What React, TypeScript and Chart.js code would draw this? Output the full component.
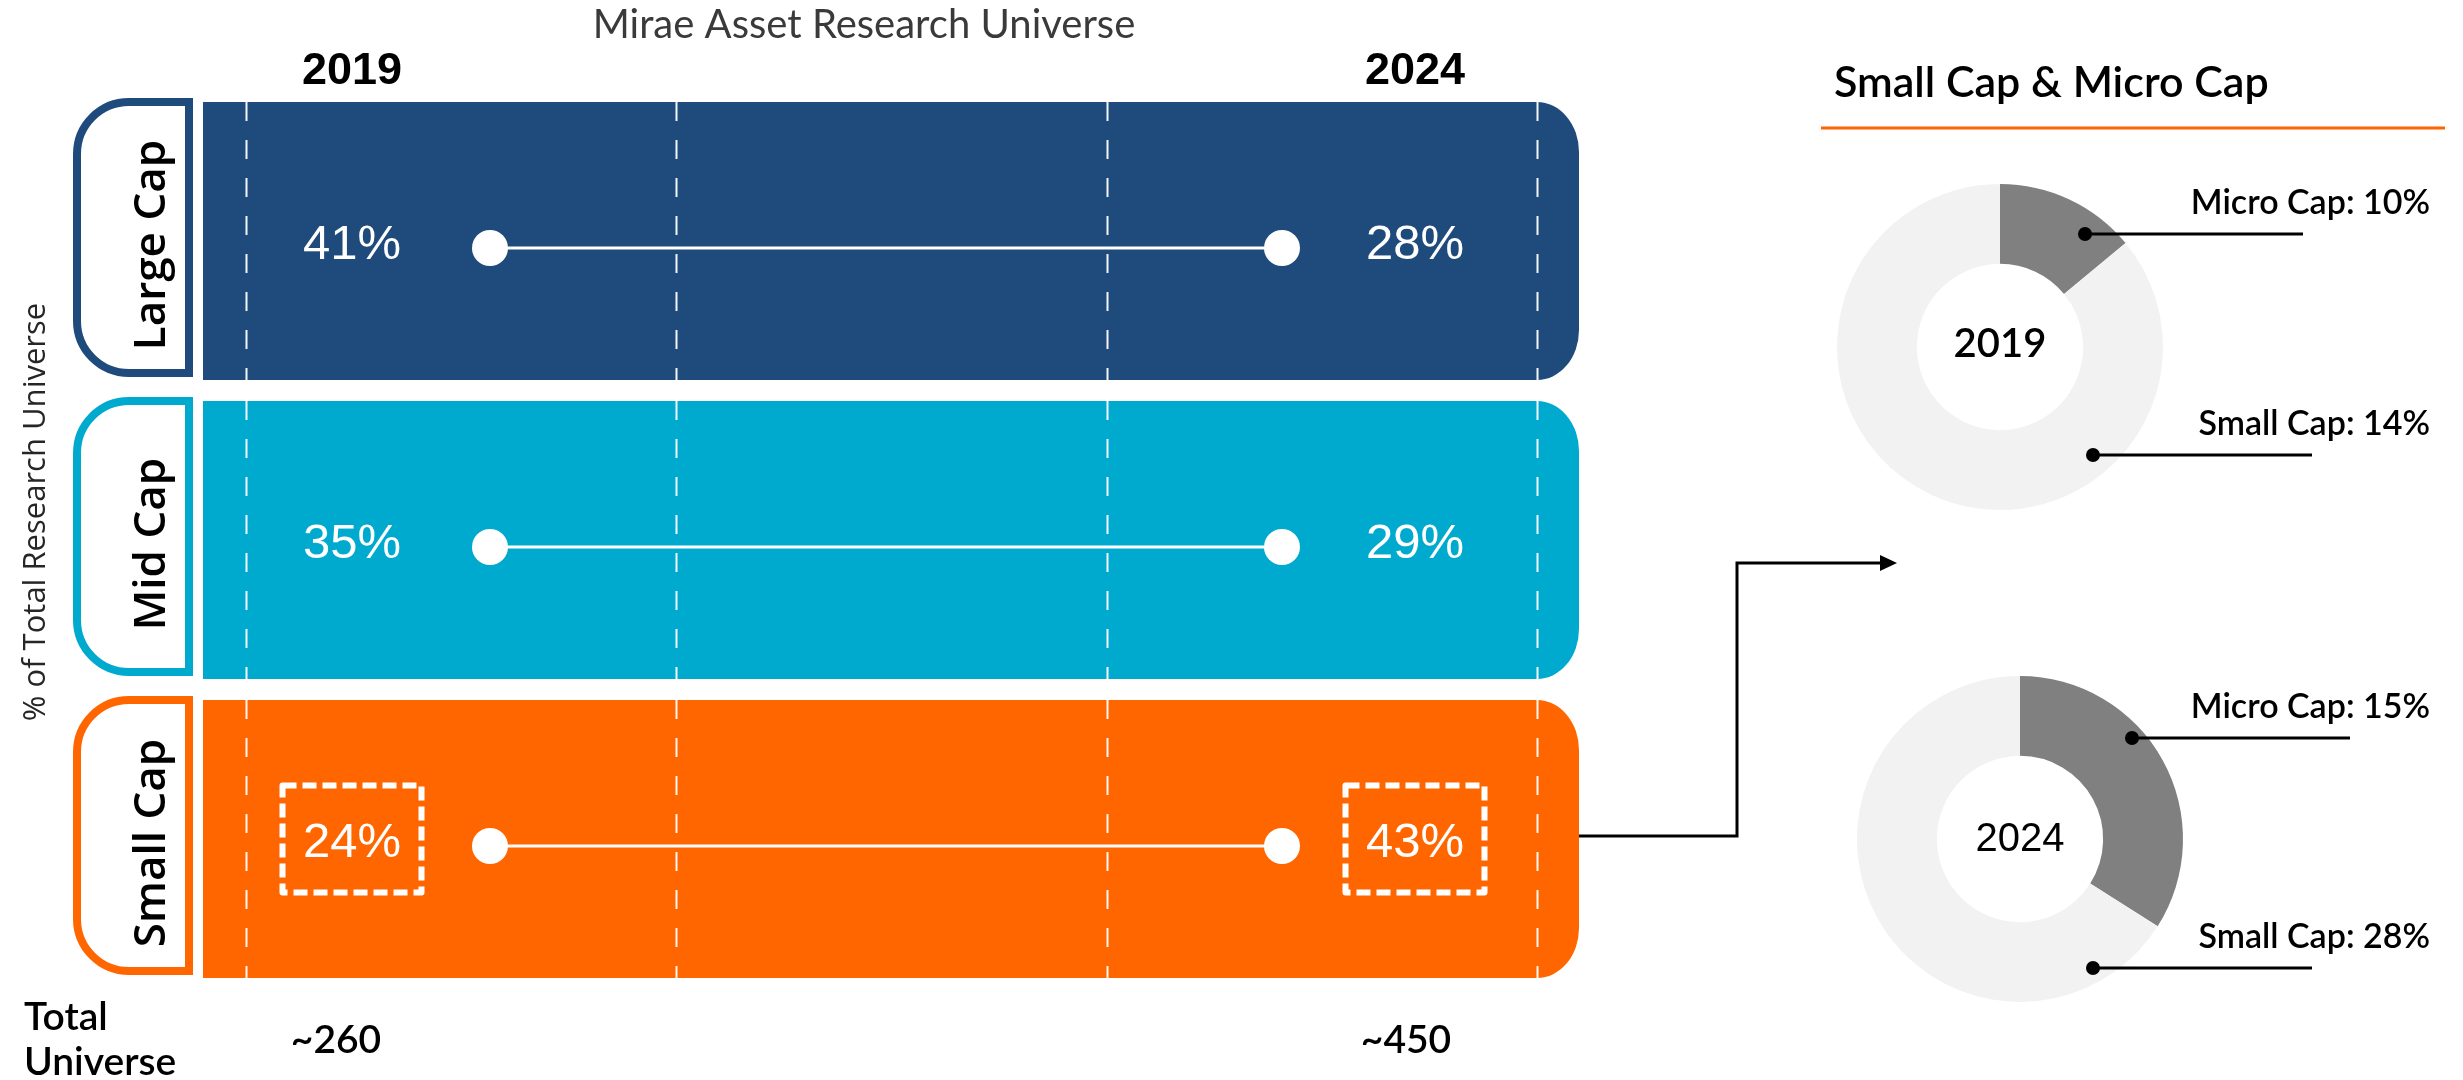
import React, { useEffect, useRef } from 'react';
import { Chart, registerables } from 'chart.js';

Chart.register(...registerables);

// ---------------- data ----------------
const capCategories = ['Large Cap', 'Mid Cap', 'Small Cap'];
const years = [2019, 2024];
const share2019 = [41, 35, 24];
const share2024 = [28, 29, 43];
const totalUniverse = ['~260', '~450'];
const highlightCategory = 'Small Cap';
const donutYears = ['2019', '2024'];
const microCapPct = [10, 15];
const smallCapPct = [14, 28];
// share of each ring drawn in grey / light grey
const microRingShare = [14, 34];
const otherRingShare = [86, 66];

// ---------------- layout & style ----------------
const W = 2463;
const H = 1080;
const AREA = { left: 203, right: 1579, top: 98.5, bottom: 995.5 };
const BAR_SHIFT = -7; // bar centre relative to band centre
const DOT_X = [490, 1282];
const BAR_RATIO = 278 / 299;
const capColors = ['#1F4A7C', '#00AACF', '#FF6600'];
const LABEL_DX = [-138, 133];
const LABEL_BASELINE_DY = 11;
const TOTAL_DX = [-154, 124];
const FONT_PCT = '49px "Liberation Sans", Arial, sans-serif';
const FONT_HEAD = 'bold 45px "Liberation Sans", Arial, sans-serif';
const FONT_CAP = '600 44px "Open Sans", sans-serif';
const FONT_YTITLE = '31px "Open Sans", sans-serif';
const FONT_LATO = (px: number, w = 400) => `${w} ${px}px Lato, sans-serif`;

const DONUT_R = 163;
const DONUT_CX = [2000, 2020];
const DONUT_CY = [347, 839];
const DONUT_CANVAS_LEFT = 1790;
const DONUT_CANVAS_HALF_H = 180;
const DONUT_COLORS = ['#808080', '#F2F2F2'];
const DONUT_CENTER_FONT = [FONT_LATO(40, 600), '40px "Liberation Sans", Arial, sans-serif'];
const DONUT_CENTER_BASELINE = [10, 12];
const DONUT_LEADERS = [
  [
    { dx: 85, dy: -113, endX: 303 },
    { dx: 93, dy: 108, endX: 312 },
  ],
  [
    { dx: 112, dy: -101, endX: 330 },
    { dx: 73, dy: 129, endX: 292 },
  ],
];
const DONUT_TEXT_RIGHT = 2430;

// ---------------- main chart plugin ----------------
const mainPlugin = {
  id: 'infographic',
  beforeDatasetsDraw(chart: any) {
    const { ctx, chartArea: a, scales } = chart;
    const ys = scales.y;
    const xs = scales.x;
    const band = (a.bottom - a.top) / capCategories.length;
    const half = (band * BAR_RATIO) / 2;
    ctx.save();

    capCategories.forEach((cat, i) => {
      const yc = ys.getPixelForValue(i) + BAR_SHIFT;
      const T = yc - half;
      const B = yc + half;
      const L = a.left;
      const R = a.right;
      const rx = 42;
      const ry = 50;
      // bar
      ctx.beginPath();
      ctx.moveTo(L, T);
      ctx.lineTo(R - rx, T);
      ctx.ellipse(R - rx, T + ry, rx, ry, 0, -Math.PI / 2, 0);
      ctx.lineTo(R, B - ry);
      ctx.ellipse(R - rx, B - ry, rx, ry, 0, 0, Math.PI / 2);
      ctx.lineTo(L, B);
      ctx.closePath();
      ctx.fillStyle = capColors[i];
      ctx.fill();

      // dashed vertical guides
      ctx.save();
      ctx.strokeStyle = 'rgba(255,255,255,0.95)';
      ctx.lineWidth = 2;
      ctx.setLineDash([19, 19]);
      const g0 = L + 43;
      const g1 = R - 42;
      for (let k = 0; k < 4; k++) {
        const gx = Math.round(g0 + (k * (g1 - g0)) / 3) + 0.5;
        ctx.beginPath();
        ctx.moveTo(gx, T);
        ctx.lineTo(gx, B);
        ctx.stroke();
      }
      ctx.restore();

      // category label box
      const bx0 = L - 126;
      const bx1 = L - 14;
      const by0 = T;
      const by1 = B - 7;
      const r = 52;
      ctx.beginPath();
      ctx.moveTo(bx1, by0);
      ctx.lineTo(bx0 + r, by0);
      ctx.arcTo(bx0, by0, bx0, by0 + r, r);
      ctx.lineTo(bx0, by1 - r);
      ctx.arcTo(bx0, by1, bx0 + r, by1, r);
      ctx.lineTo(bx1, by1);
      ctx.closePath();
      ctx.fillStyle = '#ffffff';
      ctx.fill();
      ctx.lineWidth = 8;
      ctx.strokeStyle = capColors[i];
      ctx.stroke();

      ctx.save();
      ctx.translate(L - 38, yc + 4);
      ctx.rotate(-Math.PI / 2);
      ctx.fillStyle = '#000000';
      ctx.font = FONT_CAP;
      ctx.textAlign = 'center';
      ctx.textBaseline = 'alphabetic';
      ctx.fillText(cat, 0, 0);
      ctx.restore();
    });

    // title
    ctx.fillStyle = '#3a3a3a';
    ctx.font = FONT_LATO(40, 400);
    ctx.textAlign = 'center';
    ctx.textBaseline = 'alphabetic';
    ctx.fillText('Mirae Asset Research Universe', 864, 38);

    // year headers
    ctx.fillStyle = '#000000';
    ctx.font = FONT_HEAD;
    years.forEach((yr, j) => {
      ctx.fillText(String(yr), xs.getPixelForValue(yr) + LABEL_DX[j], 84);
    });

    // y axis title
    ctx.save();
    ctx.translate(45, 512);
    ctx.rotate(-Math.PI / 2);
    ctx.fillStyle = '#262626';
    ctx.font = FONT_YTITLE;
    ctx.textAlign = 'center';
    ctx.fillText('% of Total Research Universe', 0, 0);
    ctx.restore();

    // total universe
    ctx.fillStyle = '#000000';
    ctx.font = FONT_LATO(39, 600);
    ctx.textAlign = 'left';
    ctx.fillText('Total', 24, 1030);
    ctx.fillText('Universe', 24, 1075);
    ctx.textAlign = 'center';
    years.forEach((yr, j) => {
      ctx.fillText(totalUniverse[j], xs.getPixelForValue(yr) + TOTAL_DX[j], 1053);
    });

    // connector arrow from small cap bar to the donut panel
    const hi = capCategories.indexOf(highlightCategory);
    const yh = ys.getPixelForValue(hi) + BAR_SHIFT - 3;
    ctx.strokeStyle = '#000000';
    ctx.lineWidth = 3;
    ctx.setLineDash([]);
    ctx.beginPath();
    ctx.moveTo(a.right, yh);
    ctx.lineTo(1737, yh);
    ctx.lineTo(1737, 563);
    ctx.lineTo(1883, 563);
    ctx.stroke();
    ctx.beginPath();
    ctx.moveTo(1897, 563);
    ctx.lineTo(1880, 555);
    ctx.lineTo(1880, 571);
    ctx.closePath();
    ctx.fillStyle = '#000000';
    ctx.fill();

    // right panel title
    ctx.textAlign = 'left';
    ctx.font = FONT_LATO(43, 600);
    ctx.fillText('Small Cap & Micro Cap', 1834, 97);
    ctx.strokeStyle = '#FF6600';
    ctx.lineWidth = 3;
    ctx.beginPath();
    ctx.moveTo(1821, 128);
    ctx.lineTo(2445, 128);
    ctx.stroke();

    ctx.restore();
  },
  afterDatasetsDraw(chart: any) {
    const { ctx, scales } = chart;
    const ys = scales.y;
    const xs = scales.x;
    ctx.save();
    ctx.fillStyle = '#ffffff';
    ctx.font = FONT_PCT;
    ctx.textAlign = 'center';
    ctx.textBaseline = 'alphabetic';
    const series = [share2019, share2024];
    capCategories.forEach((cat, i) => {
      const yc = ys.getPixelForValue(i);
      years.forEach((yr, j) => {
        const lx = xs.getPixelForValue(yr) + LABEL_DX[j];
        const base = yc + LABEL_BASELINE_DY;
        ctx.fillText(`${series[j][i]}%`, lx, base);
        if (cat === highlightCategory) {
          const bw = 139;
          const bh = 107;
          const cy = base - 18;
          ctx.save();
          ctx.strokeStyle = '#ffffff';
          ctx.lineWidth = 6;
          ctx.lineJoin = 'round';
          ctx.setLineDash([14, 6]);
          ctx.strokeRect(lx - bw / 2, cy - bh / 2, bw, bh);
          ctx.restore();
        }
      });
    });
    ctx.restore();
  },
};

function MainChart() {
  const ref = useRef<HTMLCanvasElement>(null);
  useEffect(() => {
    const ppy = (DOT_X[1] - DOT_X[0]) / (years[1] - years[0]);
    const xMin = years[0] - (DOT_X[0] - AREA.left) / ppy;
    const xMax = years[1] + (AREA.right - DOT_X[1]) / ppy;
    const chart = new Chart(ref.current as HTMLCanvasElement, {
      type: 'line',
      data: {
        datasets: capCategories.map((cat) => ({
          label: cat,
          data: years.map((yr) => ({ x: yr, y: cat })),
          borderColor: '#ffffff',
          borderWidth: 3,
          pointRadius: 18,
          pointHoverRadius: 18,
          pointBackgroundColor: '#ffffff',
          pointBorderWidth: 0,
          fill: false,
          tension: 0,
        })),
      } as any,
      options: {
        animation: false,
        responsive: false,
        devicePixelRatio: 1,
        events: [],
        layout: {
          padding: {
            left: AREA.left,
            right: W - AREA.right,
            top: AREA.top,
            bottom: H - AREA.bottom,
          },
        },
        scales: {
          x: { type: 'linear', min: xMin, max: xMax, display: false },
          y: { type: 'category', labels: capCategories, offset: true, display: false },
        },
        plugins: { legend: { display: false }, tooltip: { enabled: false } },
      } as any,
      plugins: [mainPlugin],
    });
    return () => chart.destroy();
  }, []);
  return (
    <canvas
      ref={ref}
      width={W}
      height={H}
      style={{ position: 'absolute', left: 0, top: 0, width: W, height: H }}
    />
  );
}

function Donut({ idx }: { idx: number }) {
  const ref = useRef<HTMLCanvasElement>(null);
  const cw = W - DONUT_CANVAS_LEFT;
  const ch = DONUT_CANVAS_HALF_H * 2;
  const left = DONUT_CANVAS_LEFT;
  const top = DONUT_CY[idx] - DONUT_CANVAS_HALF_H;
  useEffect(() => {
    const cx = DONUT_CX[idx] - left;
    const cy = DONUT_CY[idx] - top;
    const plugin = {
      id: 'donutLabels' + idx,
      afterDraw(chart: any) {
        const { ctx } = chart;
        ctx.save();
        ctx.fillStyle = '#000000';
        ctx.font = DONUT_CENTER_FONT[idx];
        ctx.textAlign = 'center';
        ctx.textBaseline = 'alphabetic';
        ctx.fillText(donutYears[idx], cx, cy + DONUT_CENTER_BASELINE[idx]);
        const texts = [`Micro Cap: ${microCapPct[idx]}%`, `Small Cap: ${smallCapPct[idx]}%`];
        DONUT_LEADERS[idx].forEach((ld, k) => {
          const dx = cx + ld.dx;
          const dy = cy + ld.dy;
          ctx.strokeStyle = '#000000';
          ctx.lineWidth = 3;
          ctx.beginPath();
          ctx.moveTo(dx, dy);
          ctx.lineTo(cx + ld.endX, dy);
          ctx.stroke();
          ctx.beginPath();
          ctx.arc(dx, dy, 7, 0, Math.PI * 2);
          ctx.fill();
          ctx.font = FONT_LATO(34, 600);
          ctx.textAlign = 'right';
          ctx.fillText(texts[k], DONUT_TEXT_RIGHT - left, dy - 20);
        });
        ctx.restore();
      },
    };
    const chart = new Chart(ref.current as HTMLCanvasElement, {
      type: 'doughnut',
      data: {
        labels: ['Micro Cap', 'Other'],
        datasets: [
          {
            data: [microRingShare[idx], otherRingShare[idx]],
            backgroundColor: DONUT_COLORS,
            borderWidth: 0,
            hoverOffset: 0,
            offset: 0,
            spacing: 0,
          },
        ],
      } as any,
      options: {
        animation: false,
        responsive: false,
        devicePixelRatio: 1,
        events: [],
        cutout: '51%',
        layout: {
          padding: {
            left: cx - DONUT_R,
            right: cw - (cx + DONUT_R),
            top: cy - DONUT_R,
            bottom: ch - (cy + DONUT_R),
          },
        },
        plugins: { legend: { display: false }, tooltip: { enabled: false } },
      } as any,
      plugins: [plugin],
    });
    return () => chart.destroy();
  }, [idx]);
  return (
    <canvas
      ref={ref}
      width={cw}
      height={ch}
      style={{ position: 'absolute', left, top, width: cw, height: ch }}
    />
  );
}

export default function App() {
  return (
    <div
      style={{
        position: 'absolute',
        left: 0,
        top: 0,
        width: W,
        height: H,
        background: '#ffffff',
        overflow: 'hidden',
      }}
    >
      <MainChart />
      <Donut idx={0} />
      <Donut idx={1} />
    </div>
  );
}
